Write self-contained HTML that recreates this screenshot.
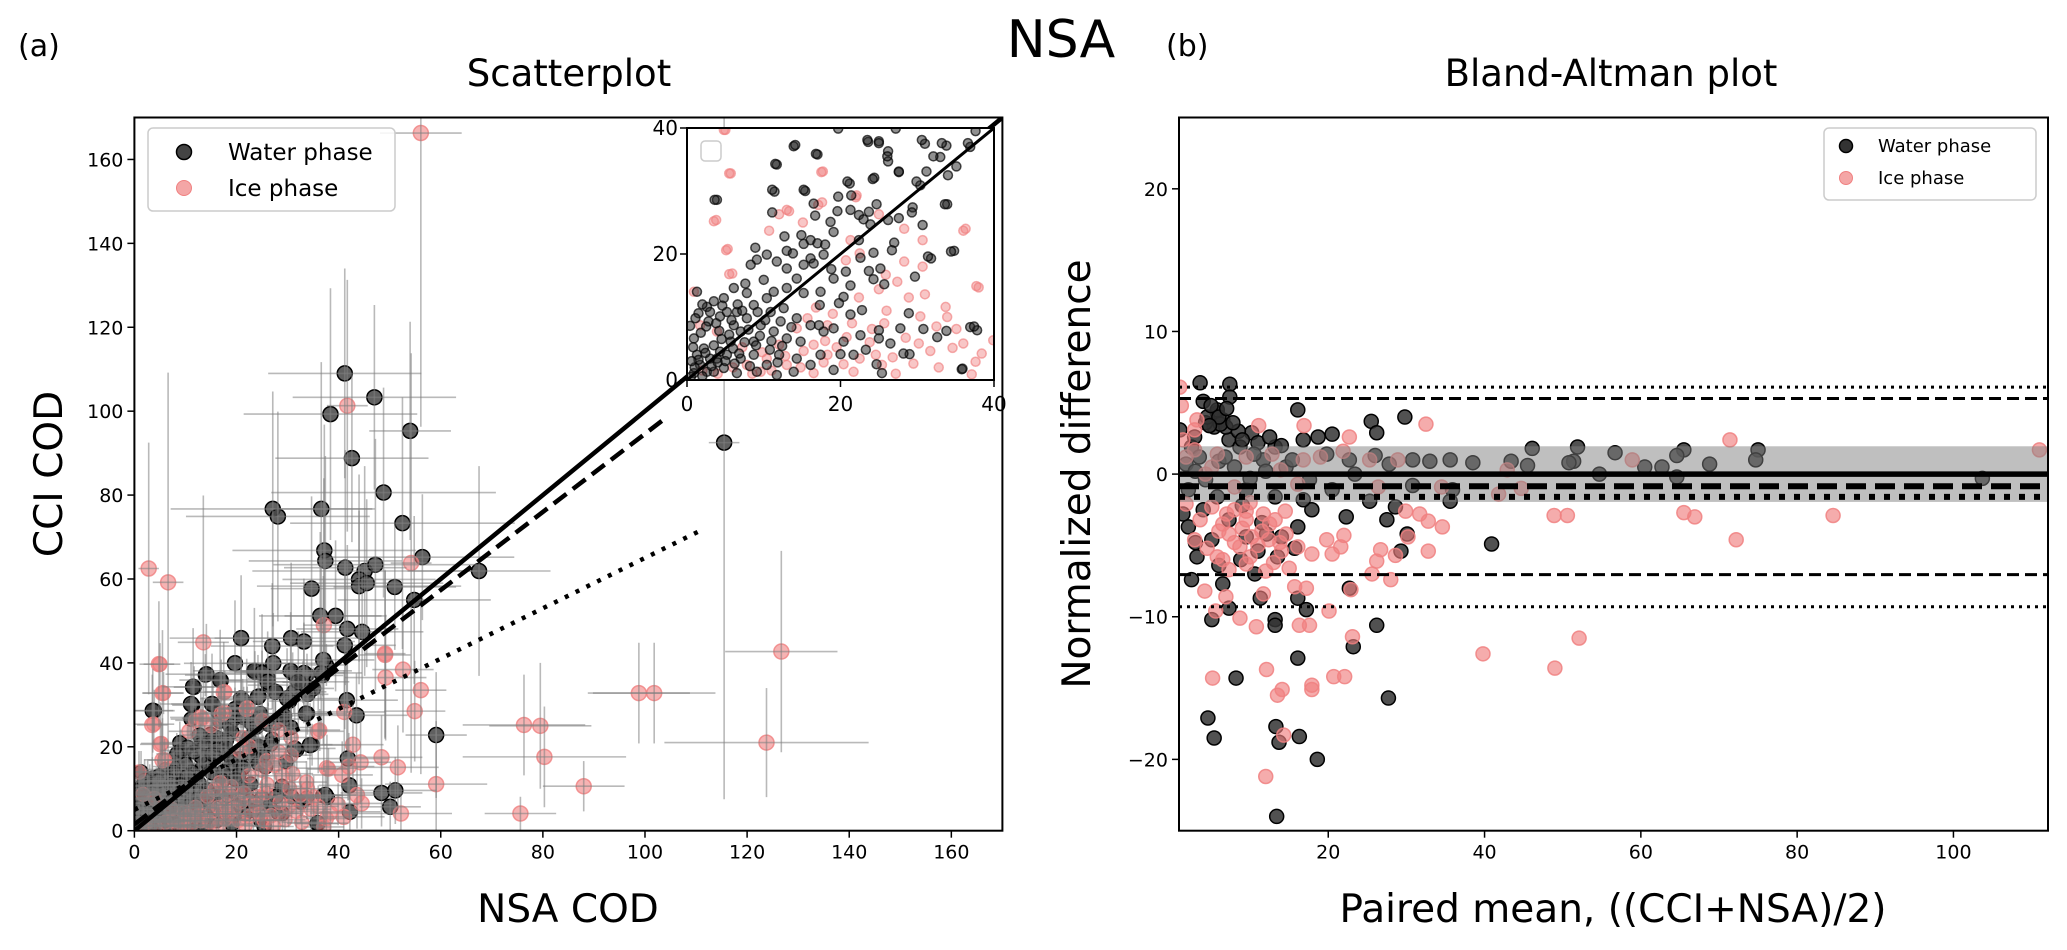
<!DOCTYPE html>
<html><head><meta charset="utf-8"><style>
html,body{margin:0;padding:0;background:#fff;}
svg{display:block;font-family:"DejaVu Sans","Liberation Sans",sans-serif;}
</style></head><body>
<svg id="fig" width="2067" height="950" viewBox="0 0 2067 950" xmlns="http://www.w3.org/2000/svg">
<rect x="0" y="0" width="2067" height="950" fill="#fff"/>
<text x="1061" y="57" font-size="52" text-anchor="middle">NSA</text>
<text x="18" y="56" font-size="30">(a)</text>
<text x="1166" y="56" font-size="30">(b)</text>
<text x="569" y="86" font-size="37" text-anchor="middle">Scatterplot</text>
<text x="1611" y="86" font-size="37" text-anchor="middle">Bland-Altman plot</text>
<text x="568" y="922" font-size="39" text-anchor="middle">NSA COD</text>
<text transform="translate(62,474) rotate(-90)" font-size="39" text-anchor="middle">CCI COD</text>
<text x="1613" y="922" font-size="39" text-anchor="middle">Paired mean, ((CCI+NSA)/2)</text>
<text transform="translate(1090,474) rotate(-90)" font-size="39" text-anchor="middle">Normalized difference</text>
<g id="gMain"></g><g id="gInset"></g><g id="gBA"></g>
</svg>
<script>
// ---- Scatterplot data: [x, y, xErr, yErr] ----
const mainWater = [[41.2,109,15,25],[47.0,103.3,16,22],[38.4,99.3,17,30],[42.6,88.8,15,20],[54.0,95.3,8,26],[48.8,80.6,22,25],[27.1,76.7,20,28],[28.1,74.9,18,25],[36.6,76.7,10,35],[52.5,73.3,22,30],[37.2,66.8,18,30],[37.4,64.3,15,25],[56.4,65.2,18,15],[41.3,62.7,12,28],[45.1,61.9,22,25],[47.2,63.4,20,30],[44.0,59.9,15,25],[44.0,58.3,20,18],[45.5,59.0,15,20],[51.0,58.1,12,15],[34.7,57.7,8,22],[67.5,61.9,14,25],[54.8,55.0,15,20],[36.4,51.2,12,20],[39.4,51.2,10,18],[41.7,48.1,10,20],[44.6,47.4,12,15],[41.2,44.2,10,20],[20.9,45.9,14,15],[30.7,45.9,15,18],[33.2,45.1,10,15],[27.0,44.0,12,15],[115.5,92.5,3,85],
[19.7,39.9,10,15],[14.1,37.3,8,12],[16.8,35.9,8,12],[11.5,34.3,6,14],[3.6,28.6,4,10],[11.1,30.2,6,10],[15.2,30.2,8,12],[23.5,38.1,12,15],[25,37.6,10,14],[27.2,39.9,10,12],[30.6,38.1,12,14],[33.2,37.6,8,12],[32.1,35.5,10,12],[26.1,35.5,8,12],[27.6,33.1,10,12],[20.9,31.5,8,10],[24.2,31.9,8,10],[29.9,31.5,10,12],[33.6,27.9,8,10],[37,40.7,10,20],[36.6,37.6,8,15],[41.6,31.1,10,12],[43.5,27.5,10,10],[34.4,20.4,8,10],[31.4,19.6,8,10],[41.8,17.2,8,10],[42.1,10.8,6,8],[48.4,9,8,8],[51.1,9.6,8,8],[50.1,5.7,6,6],[59.1,22.8,6,15],[37.4,8.5,6,6],[42.2,4.5,6,5],[35.9,1.8,6,4]];
const mainIce = [[56.1,166.3,8,70],[41.7,101.3,4,30],[54.2,63.8,4,50],[2.8,62.5,2,30],[6.6,59.2,3,50],[13.5,44.9,5,35],[37.1,49,4,35],[49.1,42.2,4,20],[4.8,39.7,3,15],[5.5,32.8,4,15],[17.5,33,5,12],[3.5,25.2,3,12],[5.1,20.6,4,10],[5.5,16.8,3,10],[13,27,6,10],[17.1,27.8,6,10],[22,29,5,12],[49.1,41.9,5,20],[49.2,36.5,8,15],[52.6,38.4,6,15],[56.1,33.5,5,20],[54.9,28.5,6,12],[41.1,28.3,8,10],[36,23.7,5,10],[42.8,20.5,6,10],[44.3,16.3,6,10],[48.4,17.5,8,10],[37.7,14.9,6,8],[40.7,13.3,6,8],[42,15.3,5,8],[51.6,15.1,8,10],[59.1,11.1,10,15],[43.6,8.5,6,8],[44.5,6.5,6,6],[52.2,4.1,10,5],[41,3.3,8,4],[76.3,25.2,12,12],[79.5,25,10,15],[80.3,17.6,16,12],[88,10.6,8,6],[75.6,4.1,7,4],[98.8,32.8,10,12],[101.8,32.8,12,12],[123.8,21,20,13],[126.7,42.7,11,24]];
// ---- Low-range data (shown in inset and main) [x, y] ----
const lowWater = [[13.9,37.1],[17,35.8],[11.7,34.2],[3.9,28.6],[11.4,29.9],[15.4,30],[23.6,37.8],[25,37.9],[26.2,36.3],[26.2,34.7],[27.6,33],[31,37.5],[33.8,37.2],[33,35.4],[35.1,33.9],[36.9,37],[37.6,39.5],[31.2,33.1],[34,32.5],[30.4,30.9],[24.4,32.1],[21.2,31.2],[21.4,29.3],[19.7,29.1],[16.5,28],[19.6,26.8],[21.3,27],[16.7,26.1],[11.1,26.6],[22.4,26.2],[23.7,26.7],[24.7,27.9],[23,25.5],[23.9,24.7],[26.2,25.4],[27.6,25.7],[29.4,27.4],[29.3,26.6],[33.9,27.9],[30.7,24.6],[18.7,25.1],[19.1,23.5],[12.7,22.8],[14.9,23],[16.1,22.2],[17,21.7],[18,21.5],[15.2,21.6],[8.9,21],[9.1,19.1],[10.4,19.9],[13,20.5],[13.8,20.1],[16.1,19.3],[16.5,18.5],[22.4,22.2],[22.6,19.4],[24.3,20.2],[27,21.8],[26.7,20.6],[31.8,19.3],[34.8,20.5],[23.7,17.3],[25.2,17.7],[24.3,16],[25.7,15.2],[29.7,16.4],[20.7,17.2],[18.8,17.6],[19.1,16.1],[21.3,15],[20.4,13.2],[17.4,14],[19.8,12.2],[22.8,11.1],[21.3,10.4],[17.3,11.9],[15.2,13.8],[13,14.6],[11.3,14],[10,15.9],[8.3,18.3],[7.6,15.3],[6.1,14.6],[4.8,13],[3.5,12.5],[1.3,14],[1.5,10.6],[2.8,9.3],[4.3,10.1],[6.5,10.8],[8.7,11.9],[10.9,10.8],[12.6,11.4],[14.3,9.8],[16.1,8.7],[17.8,7.7],[19.1,8.2],[17.2,8.7],[20.4,6.1],[22.6,7.1],[25,7.9],[25,6.6],[26.5,5.8],[27.8,8.2],[28.9,10.6],[30.8,8.1],[32.6,6.8],[33.8,7.8],[36.9,8.4],[37.8,7.9],[29,4.1],[28.2,4.2],[35.8,1.7],[24.7,2.5],[25.4,1.1],[23.3,4.8],[21.7,4],[20,4.1],[17.4,4],[16.1,2.4],[14.3,3.4],[12,4],[10.4,2.4],[11.7,0.8],[8.7,6.1],[7,7.7],[5.7,6.1],[4.3,4.5],[3,3.4],[1.7,2.4],[0.9,1.1],[2.6,1.3],[4.8,1.9],[7,3.4],[8.7,4],[6.1,8.7],[7.8,9.8],[9.6,8.7],[11.3,7.7],[13,6.6],[14.8,6.1],[0.9,6.6],[2.2,5],[3.9,3.4],[5.2,4],[1.3,4],[3.5,1.3],[6.5,1.1],[9.1,1.3],[13.9,1.3],[19.1,1.6],[12.2,9.3],[10.4,13],[14.3,16.1],[13,17.7],[11.7,18.8],[15.2,18.3],[17.8,19.9],[7.8,13.8],[5.2,10.8],[2.6,11.6],
[0.5,0.5],[1.0,2.0],[2.0,0.6],[1.5,3.2],[3.2,2.2],[2.4,4.3],[4.0,2.8],[3.5,5.5],[5.0,3.0],[4.5,6.5],[6.0,5.0],[5.5,7.2],[6.8,4.2],[7.5,6.0],[8.0,8.0],[9.0,5.5],[9.5,7.0],[10.2,9.5],[11.0,6.2],[8.2,2.2],[6.2,2.6],[0.6,3.0],[0.8,5.2],[1.8,7.5],[2.5,8.5],[3.8,9.0],[4.2,7.8],[5.8,9.5],[6.6,12.0],[7.2,11.0],[9.2,10.8],[10.8,4.8],[12.4,5.4],[13.6,8.4],[11.8,2.8],[0.4,8.6],[1.1,9.8],[2.0,12.0],[3.0,10.8],[4.6,11.8]];
const lowIce = [[5,39.7],[5.7,32.8],[17.7,33.1],[3.8,25.4],[10.7,23.7],[12,26.3],[13.3,26.8],[15.1,25],[17.6,28.2],[22.1,29.3],[25,26.3],[28.3,24],[30.7,22.2],[36.3,24],[5.3,20.8],[5.9,16.9],[21.3,22.2],[22.5,20.1],[20.7,19],[28.3,18.8],[30.7,18],[25.9,16.7],[27.4,15.6],[28.9,13.1],[31,13.6],[33.7,11.6],[33.9,10],[38,14.7],[25,14.4],[22.4,13.1],[30.4,10.1],[32.5,8.5],[35.1,8.1],[25.7,9],[24.1,8.1],[28.5,6.7],[31.7,4.6],[34.6,5.1],[36,5.8],[38.4,4.2],[39.9,6.3],[37.6,2.9],[37.1,0.9],[24.6,4],[25.4,2.4],[20.4,2.5],[18.3,4],[16.5,1.1],[14.3,8.2],[15.7,9.8],[18.3,8.7],[16.5,5.6],[13,2.4],[9.6,1.3],[7.8,2.4],[3.9,7.7],[1.7,8.7],[0.9,14],[10.4,3.4],[21.7,1.3],
[2.0,1.5],[4.0,1.0],[6.0,2.0],[8.5,1.0],[11.0,1.5],[12.8,3.8],[14.8,2.0],[17.8,2.8],[19.5,5.2],[22.5,3.4],[20.8,6.8],[18.0,6.2],[15.2,4.6],[12.0,5.6],[9.8,4.4],[7.2,5.2],[23.8,6.0],[26.8,3.6],[29.5,2.6],[27.2,1.0],[32.8,2.0],[30.2,5.8],[19.0,10.5],[21.5,9.0],[16.8,11.5],[26.0,11.0]];
const lowErr = [4,5]; // typical x / y uncertainty of the low-range points
const mainTicks = [0,20,40,60,80,100,120,140,160];
const insetTicks = [0,20,40];
// regression lines [x0,y0,x1,y1]
const lineIdentity = [0,0,170,170];
const lineDashed = [0,1.5,104.4,98.7];
const lineDotted = [0,5,111.3,71.8];
// ---- Bland-Altman data [mean, diff] ----
const baWater = [[3.6,6.4],[7.4,6.3],[7.4,5.4],[4,5.1],[16.1,4.5],[25.5,3.7],[26.2,2.9],[29.8,4],[5.8,4.3],[6.5,3.8],[5.4,3.3],[10.2,2.9],[20.5,2.8],[18.7,2.6],[46.1,1.8],[51.9,1.9],[56.7,1.5],[65.5,1.7],[64.6,1.3],[75,1.7],[74.7,1],[68.8,0.7],[62.7,0.5],[60.5,0.5],[54.7,0],[51.4,0.9],[50.8,0.8],[43.4,0.9],[45.5,0.6],[38.5,0.8],[35.6,1],[33,0.9],[30.8,1],[27.8,0.7],[26,1.3],[103.7,-0.3],[64.6,-0.2],[35.9,-1.1],[35.6,-1.9],[30.8,-0.8],[25.3,-1.9],[28.6,-2.3],[27.5,-3.2],[30.1,-4.2],[29.3,-5.4],[40.9,-4.9],[22.3,-3],[17.9,-2.5],[16.1,-3.7],[22.7,-8],[16.1,-8.7],[17.2,-9.5],[11.3,-8.7],[13.2,-10.2],[13.2,-10.6],[7.3,-9.4],[5.1,-10.2],[26.2,-10.6],[23.2,-12.1],[16.1,-12.9],[8.2,-14.3],[27.7,-15.7],[4.6,-17.1],[5.4,-18.5],[13.3,-17.7],[13.7,-18.8],[16.3,-18.4],[18.6,-20],[13.4,-24],[2.5,-7.4],[3.2,-5.8],[9.5,-4.4],[12.1,-4.2],[13.5,-5.8],[10.6,-7],[6.5,-7.7],[1.4,-2.8],[2.1,-3.7],[4.3,-0.4],[8,0.5],[11.7,1],[14.6,0.5],[17.6,-0.4],[20.5,-1.1],[23.4,0],[7.3,2.4],[4.3,3.6],[2.5,1.9],[1.8,0.7],[8.7,1.9],[13.2,1.9],[15.4,1],[19.8,1.4],[22.7,1],[2.1,-1.1],[5.8,-1.6],[9.5,-1.1],[13.2,-1.6],[16.8,-1.8],[7.3,-3.2],[5.1,-4.6],[15.7,-5.2],[5.8,4.5],[6.9,3.3],[2.9,2.6],[16.8,2.4],[1,3.1],[4.5,4.0],[6.2,3.5],[8.5,3.0],[3.0,0.2],[6.0,0.9],[10.0,-0.3],[12.0,0.2],[4.0,-2.5],[8.8,-6.0],[6.0,-6.4],[11.0,-5.4],[5.0,4.8],[6.0,4.0],[7.0,4.6],[4.8,3.4],[7.8,3.6],[9.0,2.4],[11.0,2.2],[12.5,2.6],[14.0,2.0],[3.5,1.2],[6.8,1.2],[10.5,1.4],[9.0,-2.2],[11.5,-3.4],[14.0,-4.4],[3.0,-4.8]];
const baIce = [[1,6.1],[1.2,4.8],[11.1,3.4],[16.9,3.4],[22.7,2.6],[32.5,3.5],[71.4,2.4],[111,1.7],[58.9,1],[42.9,0.3],[44.7,-1],[41.8,-1.4],[48.9,-2.9],[50.6,-2.9],[65.5,-2.7],[66.9,-3],[84.6,-2.9],[72.2,-4.6],[39.8,-12.6],[52.1,-11.5],[49,-13.6],[29.9,-2.6],[31.7,-2.8],[32.8,-3.3],[34.6,-3.7],[32.8,-5.4],[30.2,-4.4],[28.6,-5.7],[26.7,-5.3],[26.2,-6.1],[25.6,-7],[28,-7.4],[22.9,-8.1],[23.1,-11.4],[20.1,-9.6],[20.7,-14.2],[22.1,-14.2],[17.9,-14.8],[17.9,-15.1],[13.5,-15.5],[14.1,-15.1],[12.1,-13.7],[5.2,-14.3],[14.3,-18.3],[12,-21.2],[16.3,-10.6],[17.6,-10.6],[10.8,-10.7],[8.7,-10.1],[5.6,-9.6],[4.2,-8.2],[6.9,-8.6],[11.7,-8.4],[15.7,-7.9],[17.2,-8],[20.5,-5.6],[22,-4.3],[21.6,-5.1],[19.8,-4.6],[17.9,-5.6],[16.1,-5.1],[14.6,-4.2],[13.2,-3.2],[11.7,-2.8],[9.5,-3.2],[8,-2.5],[6.5,-3.5],[5.1,-2.3],[3.6,-3.2],[2.9,-4.6],[1.8,-2.1],[7.3,-4.2],[10.2,-4.4],[12.4,-4.6],[8.7,-5.1],[5.8,-5.8],[7.3,-6.7],[9.5,-6.3],[2.9,3.1],[3.2,3.8],[1.4,2.4],[2.9,1.7],[5.8,1.4],[9.5,1.2],[12.8,1.4],[16.8,1],[19,1.2],[21.9,1.6],[25.3,1],[28.9,1],[5.1,0.5],[13.9,0.3],[26.4,-0.9],[34.5,-0.9],[16.1,-0.7],[8,-0.9],[4.3,0],[1.8,1.2],[9.0,-3.8],[11.0,-5.0],[13.0,-6.2],[10.0,-2.0],[12.5,-3.5],[14.5,-2.6],[6.0,-4.0],[8.0,-4.8],[10.0,-5.8],[12.0,-6.8],[14.0,-5.4],[15.0,-6.6],[7.0,-2.8],[9.5,-2.6],[11.5,-4.0],[13.8,-4.8],[4.5,-5.2],[6.5,-6.0]];
const baXTicks = [20,40,60,80,100];
const baYTicks = [-20,-10,0,10,20];
const baLimits = [6.1,5.3,-7.05,-9.3]; // upper dotted, upper dashed, lower dashed, lower dotted
const baBiasLines = [0,-0.85,-1.6]; // zero, mean, secondary
const baBand = [-1.95,1.95];

const NS='http://www.w3.org/2000/svg';
function mk(parent,tag,attrs){const e=document.createElementNS(NS,tag);for(const k in attrs)e.setAttribute(k,attrs[k]);parent.appendChild(e);return e;}
function txt(parent,x,y,s,size,anchor){const t=mk(parent,'text',{x:x,y:y,'font-size':size,'text-anchor':anchor||'middle'});t.textContent=s;return t;}

// ===== Main scatter =====
const M={x0:134.4,x1:1002.4,y0:830.7,y1:117.5,min:0,max:170};
const mx=v=>M.x0+(v-M.min)/(M.max-M.min)*(M.x1-M.x0);
const my=v=>M.y0-(v-M.min)/(M.max-M.min)*(M.y0-M.y1);
const gM=document.getElementById('gMain');
mk(mk(gM,'clipPath',{id:'clipM'}),'rect',{x:M.x0,y:M.y1,width:M.x1-M.x0,height:M.y0-M.y1});
const pm=mk(gM,'g',{'clip-path':'url(#clipM)'});
function drawErr(g,d,ex,ey){
  const e=mk(g,'g',{stroke:'#808080','stroke-width':1.6,'stroke-opacity':0.55});
  
  
  d.forEach(p=>{
    const xe=p.length>2?p[2]:ex, ye=p.length>3?p[3]:ey;
    mk(e,'line',{x1:mx(p[0]-xe),y1:my(p[1]),x2:mx(p[0]+xe),y2:my(p[1])});
    mk(e,'line',{x1:mx(p[0]),y1:my(p[1]-ye),x2:mx(p[0]),y2:my(p[1]+ye)});
  });
}
function dots(g,d,fx,fy,r,fill,op,stroke,name){
  const gg=mk(g,'g',{});
  
  
  d.forEach(p=>{
    const c=mk(gg,'circle',{cx:fx(p[0]),cy:fy(p[1]),r:r,fill:fill,'fill-opacity':op,stroke:stroke,'stroke-opacity':Math.min(1,op+0.2),'stroke-width':1.5});
    
    
  });
}
dots(pm,lowWater,mx,my,7,'#333',0.85,'#000','low-water-points');
dots(pm,mainWater,mx,my,7.5,'#444',0.85,'#000','water-points');
dots(pm,lowIce,mx,my,7,'#f08080',0.6,'#f08080','low-ice-points');
dots(pm,mainIce,mx,my,7.5,'#f08080',0.6,'#f08080','ice-points');
drawErr(pm,lowWater,lowErr[0],lowErr[1]);
drawErr(pm,lowIce,lowErr[0],lowErr[1]);
drawErr(pm,mainWater);
drawErr(pm,mainIce);
function regLine(g,L,dash,name,w){
  const l=mk(g,'line',{x1:mx(L[0]),y1:my(L[1]),x2:mx(L[2]),y2:my(L[3]),stroke:'#000','stroke-width':w,'stroke-dasharray':dash});
  
  
}
regLine(pm,lineIdentity,'none','identity-line',4.5);
regLine(pm,lineDashed,'16,8','fit-dashed-line',4.5);
regLine(pm,lineDotted,'4,8','fit-dotted-line',4.5);
mk(gM,'rect',{x:M.x0,y:M.y1,width:M.x1-M.x0,height:M.y0-M.y1,fill:'none',stroke:'#000','stroke-width':2});
mainTicks.forEach(t=>{
  mk(gM,'line',{x1:mx(t),y1:M.y0,x2:mx(t),y2:M.y0+7,stroke:'#000','stroke-width':1.5});
  const a=txt(gM,mx(t),M.y0+28,String(t),19);
  
  
  mk(gM,'line',{x1:M.x0-7,y1:my(t),x2:M.x0,y2:my(t),stroke:'#000','stroke-width':1.5});
  const b=txt(gM,M.x0-11,my(t)+7,String(t),19,'end');
  
  
});
const lg=mk(gM,'g',{});


mk(lg,'rect',{x:148,y:128,width:247,height:83,rx:5,fill:'#fff','fill-opacity':0.85,stroke:'#ccc','stroke-width':1.5});
mk(lg,'circle',{cx:184,cy:152,r:7.5,fill:'#444',stroke:'#000','stroke-width':1.5});
mk(lg,'circle',{cx:184,cy:188,r:7.5,fill:'#f08080','fill-opacity':0.7,stroke:'#f08080'});
txt(lg,228,160,'Water phase',23,'start');
txt(lg,228,196,'Ice phase',23,'start');

// ===== Inset =====
const I={x0:687,x1:994,y0:380,y1:128,min:0,max:40};
const ix=v=>I.x0+(v-I.min)/(I.max-I.min)*(I.x1-I.x0);
const iy=v=>I.y0-(v-I.min)/(I.max-I.min)*(I.y0-I.y1);
const gI=document.getElementById('gInset');


mk(gI,'rect',{x:I.x0,y:I.y1,width:I.x1-I.x0,height:I.y0-I.y1,fill:'#fff'});
mk(mk(gI,'clipPath',{id:'clipI'}),'rect',{x:I.x0,y:I.y1,width:I.x1-I.x0,height:I.y0-I.y1});
const pi=mk(gI,'g',{'clip-path':'url(#clipI)'});
const inW=lowWater.concat(mainWater.filter(p=>p[0]<=41&&p[1]<=41));
const inI=lowIce.concat(mainIce.filter(p=>p[0]<=41&&p[1]<=41));
dots(pi,inI,ix,iy,4.5,'#f08080',0.45,'#f08080','inset-ice-points');
dots(pi,inW,ix,iy,4.5,'#222',0.5,'#000','inset-water-points');
mk(pi,'line',{x1:ix(0),y1:iy(0),x2:ix(40),y2:iy(40),stroke:'#000','stroke-width':3});
mk(gI,'rect',{x:I.x0,y:I.y1,width:I.x1-I.x0,height:I.y0-I.y1,fill:'none',stroke:'#000','stroke-width':2});
mk(gI,'rect',{x:701,y:141,width:20,height:20,rx:4,fill:'#fff',stroke:'#ccc','stroke-width':1.5});
insetTicks.forEach(t=>{
  mk(gI,'line',{x1:ix(t),y1:I.y0,x2:ix(t),y2:I.y0+7,stroke:'#000','stroke-width':1.5});
  txt(gI,ix(t),I.y0+31,String(t),20);
  mk(gI,'line',{x1:I.x0-7,y1:iy(t),x2:I.x0,y2:iy(t),stroke:'#000','stroke-width':1.5});
  txt(gI,I.x0-9,iy(t)+7,String(t),20,'end');
});

// ===== Bland-Altman =====
const B={x0:1179,x1:2048,y0:830.7,y1:117.5,xmin:0.9,xmax:112.1,ymin:-25,ymax:25};
const bx=v=>B.x0+(v-B.xmin)/(B.xmax-B.xmin)*(B.x1-B.x0);
const by=v=>B.y0-(v-B.ymin)/(B.ymax-B.ymin)*(B.y0-B.y1);
const gB=document.getElementById('gBA');
mk(mk(gB,'clipPath',{id:'clipB'}),'rect',{x:B.x0,y:B.y1,width:B.x1-B.x0,height:B.y0-B.y1});
const pb=mk(gB,'g',{'clip-path':'url(#clipB)'});
dots(pb,baWater,bx,by,7,'#333',0.85,'#000','ba-water-points');
dots(pb,baIce,bx,by,7,'#f08080',0.65,'#f08080','ba-ice-points');
const band=mk(pb,'rect',{x:B.x0,y:by(baBand[1]),width:B.x1-B.x0,height:by(baBand[0])-by(baBand[1]),fill:'#808080','fill-opacity':0.5});


function hline(v,dash,w,name){
  const l=mk(pb,'line',{x1:B.x0,x2:B.x1,y1:by(v),y2:by(v),stroke:'#000','stroke-width':w,'stroke-dasharray':dash});
  
  
}
hline(baLimits[0],'3,5',3,'upper-dotted-limit');
hline(baLimits[1],'12,6',3,'upper-dashed-limit');
hline(baLimits[2],'12,6',3,'lower-dashed-limit');
hline(baLimits[3],'3,5',3,'lower-dotted-limit');
hline(baBiasLines[0],'none',5.5,'zero-line');
hline(baBiasLines[1],'20,9',6,'mean-bias-line');
hline(baBiasLines[2],'6,9',6,'bias-dotted-line');
mk(gB,'rect',{x:B.x0,y:B.y1,width:B.x1-B.x0,height:B.y0-B.y1,fill:'none',stroke:'#000','stroke-width':2});
baXTicks.forEach(t=>{
  mk(gB,'line',{x1:bx(t),y1:B.y0,x2:bx(t),y2:B.y0+7,stroke:'#000','stroke-width':1.5});
  const a=txt(gB,bx(t),B.y0+28,String(t),19);
  
  
});
baYTicks.forEach(t=>{
  mk(gB,'line',{x1:B.x0-7,y1:by(t),x2:B.x0,y2:by(t),stroke:'#000','stroke-width':1.5});
  const a=txt(gB,B.x0-11,by(t)+7,(t<0?'\u2212':'')+Math.abs(t),19,'end');
  
  
});
const bl=mk(gB,'g',{});


mk(bl,'rect',{x:1824,y:128,width:212,height:72,rx:5,fill:'#fff','fill-opacity':0.85,stroke:'#ccc','stroke-width':1.5});
mk(bl,'circle',{cx:1846,cy:146,r:6.5,fill:'#333',stroke:'#000','stroke-width':1.5});
mk(bl,'circle',{cx:1846,cy:178,r:6.5,fill:'#f08080','fill-opacity':0.7,stroke:'#f08080'});
txt(bl,1878,152,'Water phase',18,'start');
txt(bl,1878,184,'Ice phase',18,'start');
</script>
</body></html>
